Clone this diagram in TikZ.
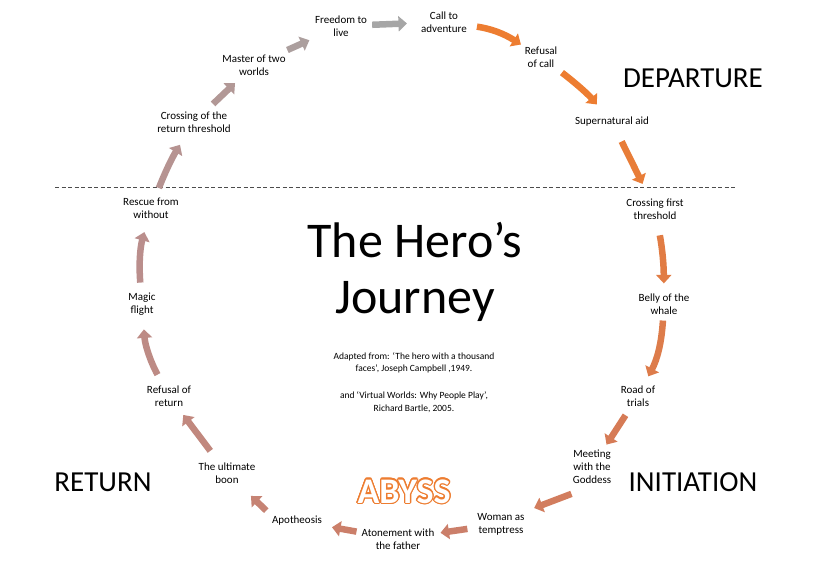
\documentclass[tikz,border=0pt]{standalone}
\usepackage{fontspec}
\setmainfont{Carlito}
\usepackage{contour}
\usetikzlibrary{arrows.meta, positioning}
\definecolor{callorange}{HTML}{ED7D31}
\definecolor{trialrust}{HTML}{D67B56}
\definecolor{abyssclay}{HTML}{CB7F6A}
\definecolor{returnmauve}{HTML}{BA8E8C}
\definecolor{freegrey}{HTML}{A6A6A6}
\contourlength{1.3pt}

\begin{document}
\begin{tikzpicture}[
    x=1pt, y=1pt,
    stage/.style={align=center, font=\fontsize{11}{13}\selectfont, inner sep=2pt},
    phase/.style={font=\fontsize{29}{32}\selectfont, inner sep=0pt},
    source/.style={align=center, font=\fontsize{9.5}{12.5}\selectfont, inner sep=0pt},
    trail/.style={draw=#1, line width=6.5pt, -{Triangle[length=8.5pt, width=15pt]},
                  shorten <=8pt, shorten >=8pt},
]
    \useasboundingbox (0,0) rectangle (817,-569);

    % Title and sources
    \node[align=center, font=\fontsize{50}{56}\selectfont, inner sep=0pt] (title) at (415,-272) {The Hero’s\\Journey};
    \node[source] (src1) at (414,-363) {Adapted from: ‘The hero with a thousand\\faces’, Joseph Campbell ,1949.};
    \node[source] (src2) at (414,-402) {and ‘Virtual Worlds: Why People Play’,\\Richard Bartle, 2005.};

    % Phases
    \node[phase] (departure) at (693,-78) {DEPARTURE};
    \node[phase] (initiation) at (693,-482) {INITIATION};
    \node[phase] (return) at (103,-482) {RETURN};
    \node[font=\bfseries\fontsize{36}{38}\selectfont, text=white, inner sep=0pt] (abyss) at (404,-492) {\contour{callorange}{ABYSS}};

    % Threshold line
    \coordinate (dashl) at (55,-187);
    \coordinate (dashr) at (737,-187);
    \draw[dash pattern=on 4pt off 2.5pt, gray!60!black, thin] (dashl) -- (dashr);

    % Stages
    \node[stage] (call) at (444,-22) {Call to\\adventure};
    \node[stage] (refusal) at (541,-57) {Refusal\\of call};
    \node[stage] (aid) at (612,-122) {Supernatural aid};
    \node[stage] (crossfirst) at (655,-209) {Crossing first\\threshold};
    \node[stage] (belly) at (664,-304) {Belly of the\\whale};
    \node[stage] (road) at (638,-396) {Road of\\trials};
    \node[stage] (goddess) at (592,-467) {Meeting\\with the\\Goddess};
    \node[stage] (woman) at (501,-524) {Woman as\\temptress};
    \node[stage] (atone) at (398,-539) {Atonement with\\the father};
    \node[stage] (apotheosis) at (297,-521) {Apotheosis};
    \node[stage] (boon) at (227,-473) {The ultimate\\boon};
    \node[stage] (refreturn) at (169,-396) {Refusal of\\return};
    \node[stage] (magic) at (142,-304) {Magic\\flight};
    \node[stage] (rescue) at (151,-208) {Rescue from\\without};
    \node[stage] (crossreturn) at (194,-122) {Crossing of the\\return threshold};
    \node[stage] (master) at (254,-65) {Master of two\\worlds};
    \node[stage] (freedom) at (341,-26) {Freedom to\\live};

    % Journey
    \draw[trail=callorange, shorten >=2pt] (call) to[bend left=12] (refusal);
    \draw[trail=callorange, shorten <=5pt, shorten >=14pt] (refusal) to[bend left=6] (aid);
    \draw[trail=callorange!80!trialrust, shorten <=14pt, shorten >=14pt] (aid) -- (crossfirst);
    \draw[trail=callorange!50!trialrust, shorten <=14pt] (crossfirst) to[bend left=5] (belly);
    \draw[trail=callorange!30!trialrust, shorten <=4pt] (belly) to[bend left=12] (road);
    \draw[trail=trialrust, shorten >=4pt] (road) -- (goddess);
    \draw[trail=trialrust!60!abyssclay, shorten <=22pt] (goddess.south) -- (woman.north east);
    \draw[trail=abyssclay, shorten >=4pt] (woman) -- (atone);
    \draw[trail=abyssclay, shorten <=3pt] (atone) -- (apotheosis);
    \draw[trail=abyssclay!70!returnmauve, shorten <=5pt, shorten >=15pt] (apotheosis.north west) -- (boon);
    \draw[trail=abyssclay!40!returnmauve, shorten <=12pt] (boon) -- (refreturn);
    \draw[trail=abyssclay!20!returnmauve, shorten <=10pt, shorten >=12pt] (refreturn) to[bend left=12] (magic);
    \draw[trail=returnmauve, shorten >=12pt] (magic) to[bend left=10] (rescue);
    \draw[trail=returnmauve!80!freegrey, shorten >=12pt] (rescue) to[bend left=5] (crossreturn);
    \draw[trail=returnmauve!60!freegrey] (crossreturn) -- (master);
    \draw[trail=returnmauve!30!freegrey, shorten <=6pt, shorten >=4pt] (master) -- (freedom);
    \draw[trail=freegrey, shorten <=3pt, shorten >=12pt] (freedom) -- (call);
\end{tikzpicture}
\end{document}
